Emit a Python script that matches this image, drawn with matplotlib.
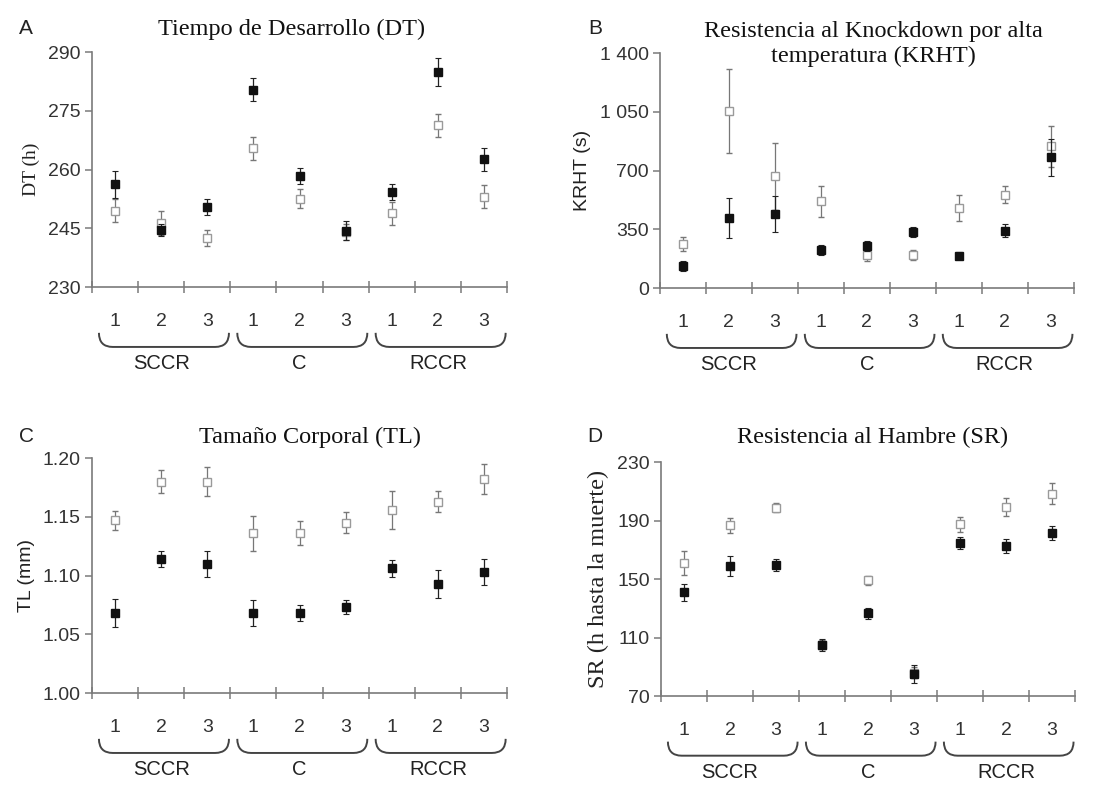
import matplotlib
matplotlib.use("Agg")
from matplotlib import pyplot as plt
from matplotlib.path import Path
from matplotlib.patches import PathPatch
import matplotlib.transforms as mtransforms

# categories: 3 lines within each of 3 selection regimes
groups = ["SCCR", "C", "RCCR"]
lines = ["1", "2", "3"]

# A - development time (h)
dt_filled = [256.2, 244.6, 250.5, 280.4, 258.4, 244.4, 254.2, 284.9, 262.6]
dt_filled_err = [3.5, 1.5, 2.0, 3.0, 2.0, 2.5, 2.0, 3.5, 3.0]
dt_open = [249.5, 246.3, 242.5, 265.4, 252.6, 244.0, 248.8, 271.3, 253.1]
dt_open_err = [3.0, 3.0, 2.0, 3.0, 2.5, 2.0, 3.0, 3.0, 3.0]

# B - knockdown resistance (s)
krht_filled = [133, 417, 441, 228, 252, 334, 193, 342, 780]
krht_filled_err = [30, 120, 110, 30, 30, 30, 20, 40, 110]
krht_open = [262, 1052, 665, 516, 199, 199, 477, 556, 844]
krht_open_err = [40, 250, 200, 90, 40, 30, 80, 50, 120]

# C - body size (mm)
tl_filled = [1.068, 1.114, 1.110, 1.068, 1.068, 1.073, 1.106, 1.093, 1.103]
tl_filled_err = [0.012, 0.007, 0.011, 0.011, 0.007, 0.006, 0.007, 0.012, 0.011]
tl_open = [1.147, 1.180, 1.180, 1.136, 1.136, 1.145, 1.156, 1.163, 1.182]
tl_open_err = [0.008, 0.010, 0.012, 0.015, 0.010, 0.009, 0.016, 0.009, 0.013]

# D - starvation resistance (h)
sr_filled = [140.8, 159.0, 159.4, 104.8, 126.5, 85.0, 174.7, 172.6, 181.5]
sr_filled_err = [6, 7, 4, 4, 4, 6, 4, 5, 5]
sr_open = [161.0, 186.8, 198.8, 105.0, 149.2, 86.0, 187.4, 199.3, 208.4]
sr_open_err = [8, 5, 3, 3, 3, 4, 5, 6, 7]

SERIF = "Liberation Serif"
SANS = "Liberation Sans"
AXIS_GREY = "#7a7a7a"


def draw_panel(ax, filled, filled_err, opn, opn_err, yticks, yticklabels, ylabel, ylabel_font, ylabel_size=14):
    x = [i + 0.5 for i in range(9)]
    ax.errorbar(x, opn, yerr=opn_err, fmt="s", ms=5.5, mfc="white", mec="#9a9a9a",
                mew=1.0, ecolor="#777777", elinewidth=0.9, capsize=2, capthick=0.8, zorder=2)
    ax.errorbar(x, filled, yerr=filled_err, fmt="s", ms=6, mfc="#111111", mec="#111111",
                ecolor="#222222", elinewidth=0.9, capsize=2, capthick=0.8, zorder=3)

    ax.set_xlim(0, 9)
    ax.set_ylim(yticks[0], yticks[-1])
    ax.set_yticks(yticks)
    ax.set_yticklabels(yticklabels, fontfamily=SANS, fontsize=14, color="#333333")
    ax.set_xticks(x)
    ax.set_xticklabels(lines * 3, fontfamily=SANS, fontsize=14, color="#333333")
    ax.set_xticks(range(10), minor=True)
    ax.tick_params(axis="x", which="major", length=0, pad=19)
    ax.tick_params(axis="x", which="minor", direction="inout", length=9, width=1.1, color=AXIS_GREY)
    ax.tick_params(axis="y", direction="out", length=5, width=1.1, color=AXIS_GREY, pad=3)

    for side in ["top", "right"]:
        ax.spines[side].set_visible(False)
    for side in ["left", "bottom"]:
        ax.spines[side].set_color(AXIS_GREY)
        ax.spines[side].set_linewidth(1.2)
    ax.spines["left"].set_zorder(0)

    ax.set_ylabel(ylabel, fontfamily=ylabel_font, fontsize=ylabel_size, color="#222222", labelpad=6)

    # curly brackets under each group of lines
    trans = mtransforms.blended_transform_factory(ax.transData, ax.transAxes)
    yt, yb = -0.195, -0.255
    for g, name in enumerate(groups):
        x0, x1 = 3 * g + 0.15, 3 * g + 2.97
        verts = [(x0, yt), (x0, yb), (x0 + 0.3, yb), (x1 - 0.3, yb), (x1, yb), (x1, yt)]
        codes = [Path.MOVETO, Path.CURVE3, Path.CURVE3, Path.LINETO, Path.CURVE3, Path.CURVE3]
        brace = PathPatch(Path(verts, codes), fill=False, lw=1.4, ec="#444444",
                          transform=trans, clip_on=False)
        ax.add_patch(brace)
        ax.text(3 * g + 1.5, -0.325, name, transform=trans, ha="center", va="center",
                fontfamily=SANS, fontsize=14.5, color="#222222")


fig = plt.figure(figsize=(10.98, 7.87), dpi=100)

axA = fig.add_axes([0.0838, 0.6353, 0.378, 0.2986])
draw_panel(axA, dt_filled, dt_filled_err, dt_open, dt_open_err,
           [230, 245, 260, 275, 290], ["230", "245", "260", "275", "290"], "DT (h)", SERIF)

axB = fig.add_axes([0.601, 0.634, 0.377, 0.2986])
draw_panel(axB, krht_filled, krht_filled_err, krht_open, krht_open_err,
           [0, 350, 700, 1050, 1400], ["0", "350", "700", "1 050", "1 400"], "KRHT (s)", SANS)

axC = fig.add_axes([0.0838, 0.1194, 0.378, 0.2986])
draw_panel(axC, tl_filled, tl_filled_err, tl_open, tl_open_err,
           [1.00, 1.05, 1.10, 1.15, 1.20], ["1.00", "1.05", "1.10", "1.15", "1.20"], "TL (mm)", SANS)

axD = fig.add_axes([0.602, 0.1156, 0.377, 0.2973])
draw_panel(axD, sr_filled, sr_filled_err, sr_open, sr_open_err,
           [70, 110, 150, 190, 230], ["70", "110", "150", "190", "230"], "SR (h hasta la muerte)", SERIF,
           ylabel_size=17.5)

# titles and panel letters, placed in figure pixels
W, H = 1098.0, 787.0
def ftext(px, py, s, **kw):
    fig.text(px / W, 1 - py / H, s, ha="center", va="center", **kw)

ftext(292, 29, "Tiempo de Desarrollo (DT)", fontfamily=SERIF, fontsize=17.5, color="#111111")
ftext(873, 44, "Resistencia al Knockdown por alta\ntemperatura (KRHT)", fontfamily=SERIF,
      fontsize=17.5, color="#111111", linespacing=1.2)
ftext(310, 437, "Tamaño Corporal (TL)", fontfamily=SERIF, fontsize=17.5, color="#111111")
ftext(873, 437, "Resistencia al Hambre (SR)", fontfamily=SERIF, fontsize=17.5, color="#111111")

for px, py, letter in [(26, 29, "A"), (595, 28, "B"), (27, 437, "C"), (595, 437, "D")]:
    ftext(px, py, letter, fontfamily=SANS, fontsize=15, color="#222222")

fig.savefig("out.png", dpi=100, facecolor="white")
